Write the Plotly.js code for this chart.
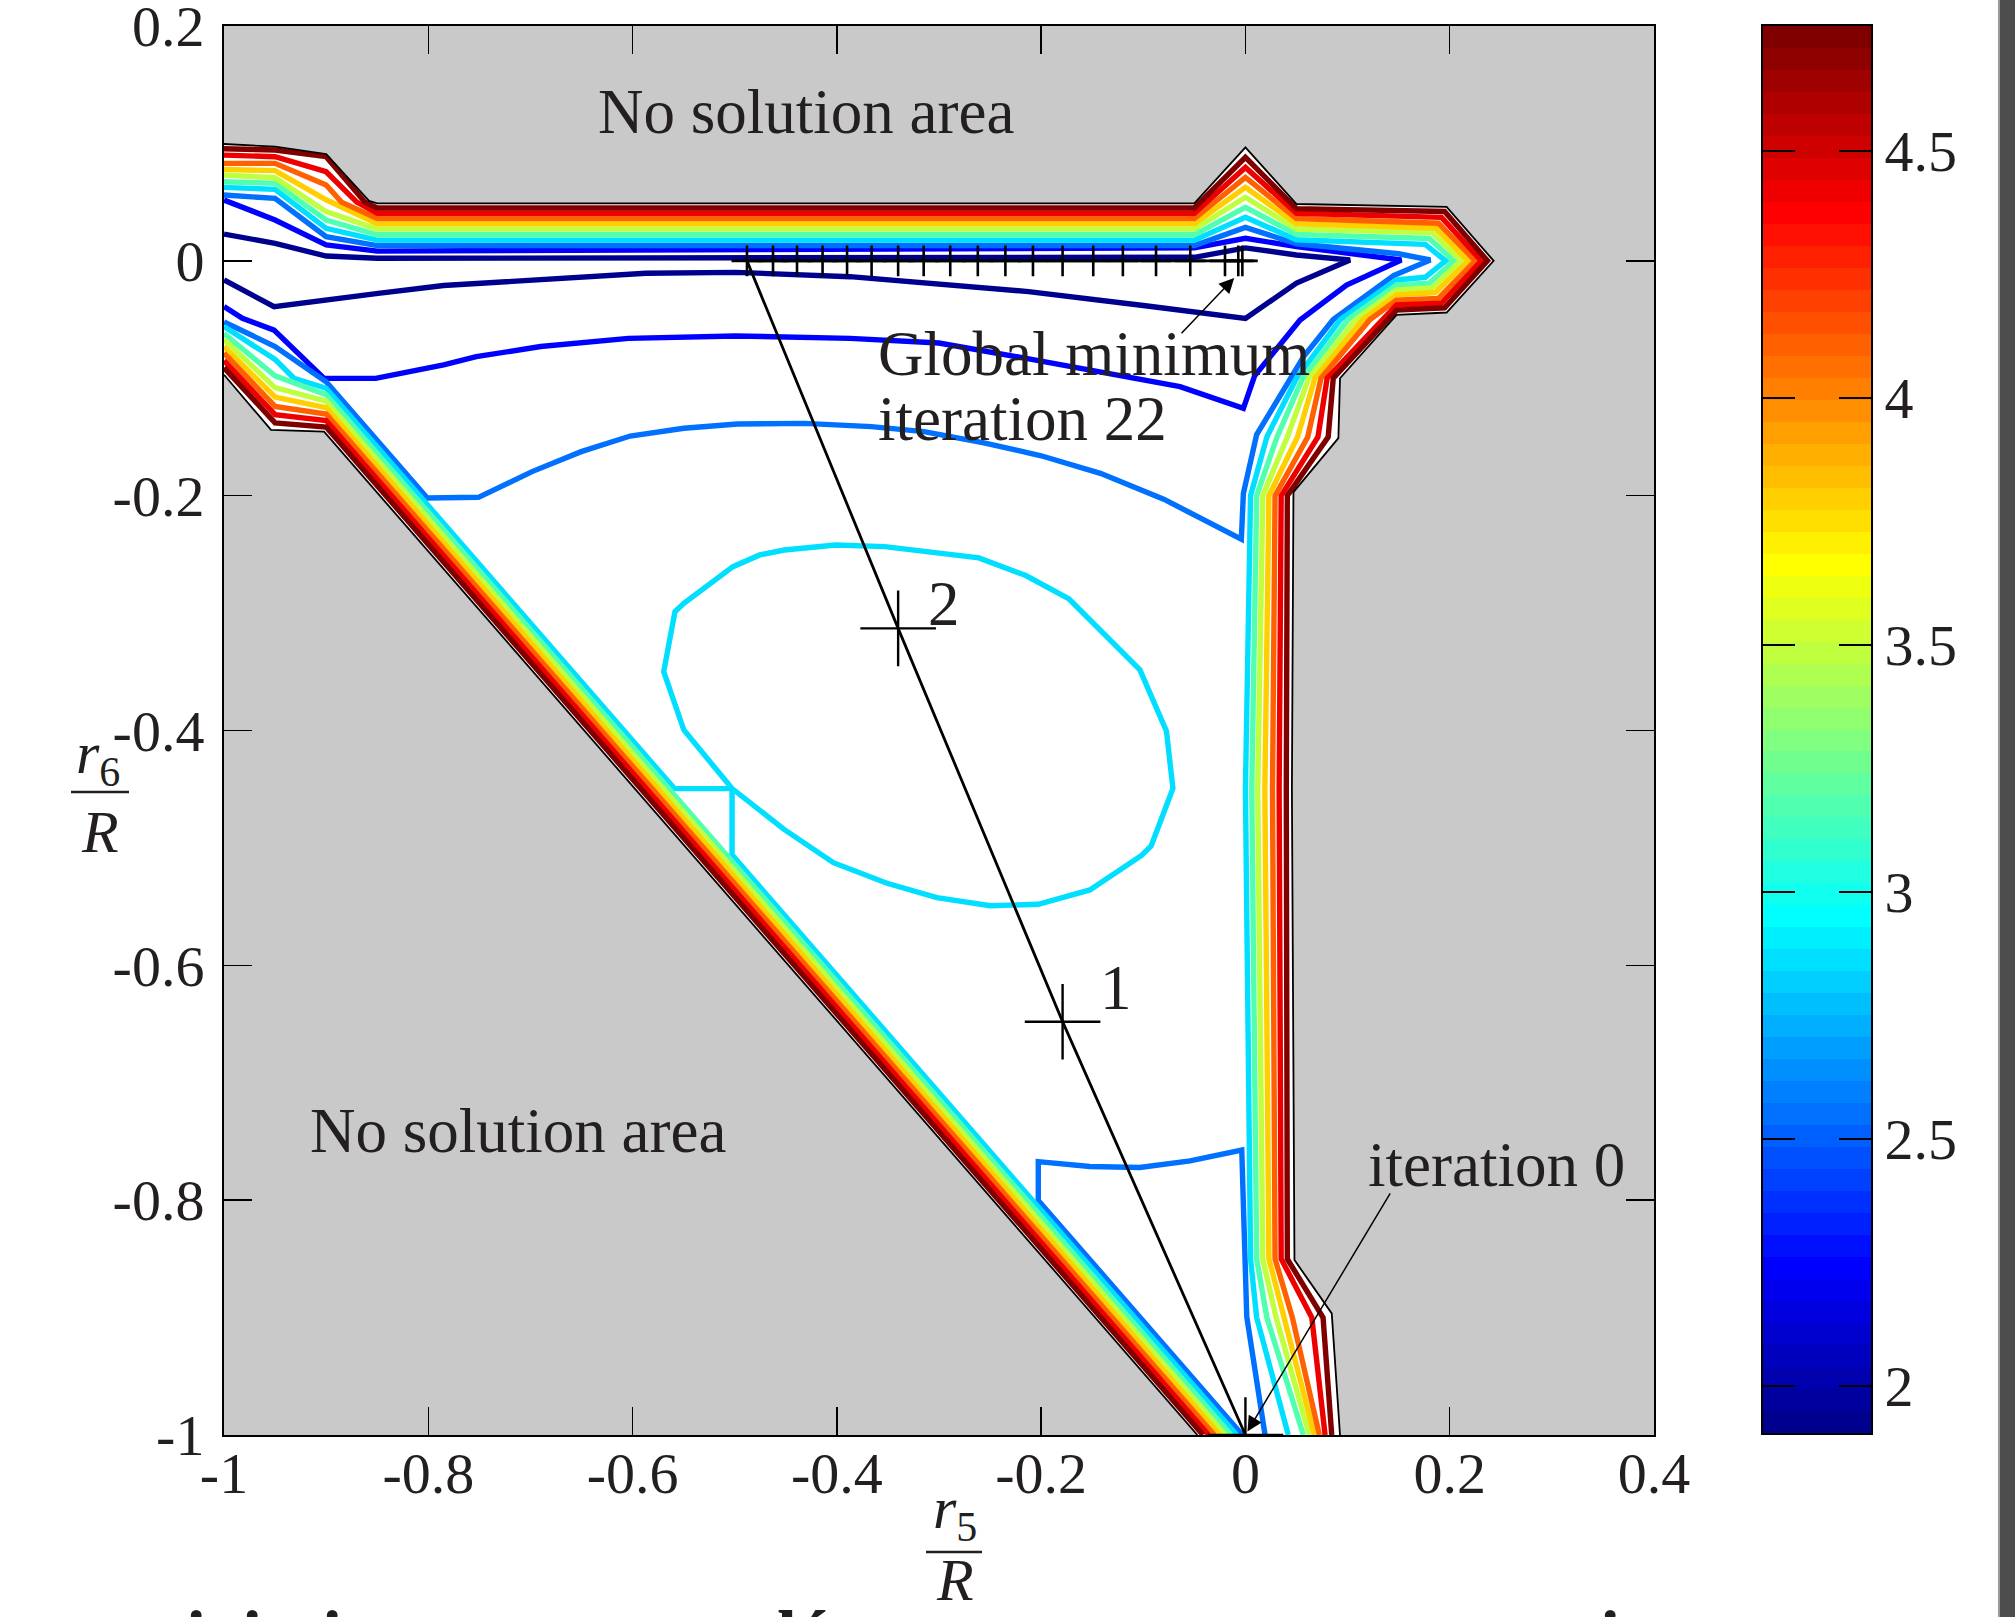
<!DOCTYPE html>
<html><head><meta charset="utf-8">
<script src="https://cdn.plot.ly/plotly-3.0.1.min.js"></script>
<style>html,body{margin:0;padding:0;background:#fff;overflow:hidden}#chart{width:2015px;height:1617px;}</style>
</head><body><div id="chart"></div>
<script>
// ---------------- data ----------------
const cbMin = 1.905, cbMax = 4.753;
const levels = [1.93, 2.24, 2.55, 2.86, 3.17, 3.48, 3.79, 4.10, 4.41, 4.72];

// level 0 (navy)
const navyX = [-1, -0.95, -0.9, -0.85, -0.05, 0, 0.05, 0.1024, 0.05, 0, -0.1, -0.2123, -0.3871, -0.499, -0.587, -0.717, -0.785, -0.849, -0.901, -0.951, -1];
const navyY = [0.0228, 0.0149, 0.0041, 0.0022, 0.003, 0.011, 0.005, 0.0007, -0.019, -0.049, -0.038, -0.0262, -0.0135, -0.0098, -0.0106, -0.0175, -0.021, -0.0277, -0.0333, -0.039, -0.0163];
// level 1 (blue)
const blueX = [-1, -0.95, -0.9, -0.85, -0.05, 0, 0.05, 0.1, 0.1526, 0.099, 0.0535, 0.009, -0.002, -0.064, -0.125, -0.212, -0.3, -0.387, -0.4995, -0.604, -0.69, -0.753, -0.785, -0.8515, -0.902, -0.951, -0.982, -1];
const blueY = [0.0518, 0.0348, 0.0135, 0.0083, 0.011, 0.0192, 0.0121, 0.006, 0.0007, -0.0206, -0.0504, -0.098, -0.1256, -0.1071, -0.097, -0.0835, -0.070, -0.066, -0.064, -0.066, -0.073, -0.0816, -0.0887, -0.1001, -0.1001, -0.059, -0.049, -0.039];
// level 2 (azure)
const azureX = [-1, -0.95, -0.9, -0.85, -0.05, 0, 0.05, 0.15, 0.181, 0.145, 0.086, 0.057, 0.011, -0.002, -0.004, -0.08, -0.142, -0.2, -0.256, -0.3146, -0.3662, -0.4318, -0.4974, -0.5498, -0.6023, -0.6503, -0.6984, -0.7509, -0.801, -0.9, -0.95, -1];
const azureY = [0.0561, 0.0532, 0.0206, 0.013, 0.013, 0.0285, 0.0145, 0.006, 0.0007, -0.0126, -0.05, -0.0816, -0.148, -0.198, -0.237, -0.203, -0.181, -0.166, -0.155, -0.1455, -0.1412, -0.1384, -0.139, -0.1426, -0.1492, -0.1625, -0.1795, -0.2014, -0.202, -0.103, -0.073, -0.052];
const azureBottomX = [-0.003, -0.2028, -0.2028, -0.1523, -0.1036, -0.0542, -0.0036, 0.0013, 0.0192];
const azureBottomY = [-1, -0.8002, -0.7672, -0.7713, -0.7722, -0.7666, -0.7573, -0.8992, -1];
// level 3 (cyan)
const cyanUpperX = [-1, -0.95, -0.9, -0.85, -0.05, 0, 0.05, 0.176, 0.196, 0.176, 0.148, 0.093, 0.050, 0.021, 0.005, 0.000, 0.005, 0.011, 0.042];
const cyanUpperY = [0.0626, 0.0609, 0.0277, 0.0176, 0.0176, 0.0371, 0.018, 0.014, 0, -0.014, -0.0163, -0.05, -0.1, -0.15, -0.2, -0.45, -0.85, -0.9, -1];
const cyanLowerX = [-1, -0.95, -0.9315, -0.9, -0.559, -0.5026, -0.5498, -0.5695, -0.5585, -0.5498, -0.5017, -0.4755, -0.4515, -0.4012, -0.3531, -0.3146, -0.261, -0.215, -0.1727, -0.1033, -0.0773, -0.071, -0.0923, -0.1017, -0.1523, -0.2028, -0.2497, -0.3021, -0.3509, -0.4034, -0.452, -0.5026, -0.5026, -0.0085];
const cyanLowerY = [-0.056, -0.084, -0.1, -0.1085, -0.4495, -0.4494, -0.3996, -0.3499, -0.2988, -0.2917, -0.2605, -0.2505, -0.2463, -0.242, -0.2434, -0.2477, -0.253, -0.268, -0.288, -0.3484, -0.4005, -0.4494, -0.4983, -0.5064, -0.5358, -0.548, -0.5492, -0.5423, -0.5301, -0.5126, -0.484, -0.4494, -0.5059, -1];
// level 4 (aquamarine)
const aquaUpperX = [-1, -0.95, -0.9, -0.85, -0.05, 0, 0.05, 0.18, 0.204, 0.18, 0.148, 0.1005, 0.056, 0.031, 0.011, 0.0062, 0.011, 0.021, 0.0567];
const aquaUpperY = [0.0674, 0.066, 0.0348, 0.0222, 0.0222, 0.0456, 0.0225, 0.019, 0, -0.019, -0.0206, -0.05, -0.1, -0.15, -0.2, -0.45, -0.85, -0.9, -1];
const aquaLowerX = [-1, -0.95, -0.9, -0.014];
const aquaLowerY = [-0.062, -0.098, -0.114, -1];
// level 5 (yellow-green)
const ygUpperX = [-1, -0.95, -0.9, -0.85, -0.05, 0, 0.05, 0.183, 0.211, 0.183, 0.148, 0.108, 0.062, 0.041, 0.017, 0.012, 0.017, 0.030, 0.0626];
const ygUpperY = [0.0731, 0.0708, 0.0419, 0.027, 0.027, 0.0541, 0.027, 0.024, 0, -0.023, -0.0248, -0.05, -0.1, -0.15, -0.2, -0.45, -0.85, -0.9, -1];
const ygLowerX = [-1, -0.95, -0.9, -0.0195];
const ygLowerY = [-0.067, -0.108, -0.1195, -1];
// level 6 (gold)
const goldUpperX = [-1, -0.95, -0.9, -0.85, -0.05, 0, 0.05, 0.186, 0.218, 0.186, 0.148, 0.115, 0.068, 0.051, 0.023, 0.019, 0.023, 0.038, 0.0675];
const goldUpperY = [0.0779, 0.0768, 0.052, 0.0315, 0.0315, 0.0626, 0.0315, 0.028, 0, -0.027, -0.029, -0.05, -0.1, -0.15, -0.2, -0.45, -0.85, -0.9, -1];
const goldLowerX = [-1, -0.95, -0.9, -0.025];
const goldLowerY = [-0.073, -0.116, -0.125, -1];
// level 7 (orange)
const orangeUpperX = [-1, -0.95, -0.9, -0.885, -0.85, -0.05, 0, 0.05, 0.189, 0.225, 0.189, 0.148, 0.122, 0.074, 0.061, 0.029, 0.0265, 0.029, 0.046, 0.0724];
const orangeUpperY = [0.083, 0.083, 0.0646, 0.05, 0.036, 0.036, 0.0711, 0.036, 0.032, 0, -0.032, -0.0334, -0.05, -0.1, -0.15, -0.2, -0.45, -0.85, -0.9, -1];
const orangeLowerX = [-1, -0.95, -0.9, -0.0305];
const orangeLowerY = [-0.0785, -0.124, -0.1305, -1];
// level 8 (red)
const redUpperX = [-1, -0.95, -0.9, -0.87, -0.85, -0.05, 0, 0.05, 0.192, 0.231, 0.192, 0.148, 0.080, 0.071, 0.035, 0.033, 0.035, 0.065, 0.078];
const redUpperY = [0.090, 0.0887, 0.0759, 0.05, 0.0405, 0.0405, 0.0796, 0.0405, 0.037, 0, -0.036, -0.0376, -0.1, -0.15, -0.2, -0.45, -0.85, -0.9, -1];
const redLowerX = [-1, -0.95, -0.9, -0.036];
const redLowerY = [-0.085, -0.131, -0.136, -1];
// level 9 (dark red)
const darkUpperX = [-1, -0.95, -0.9, -0.862, -0.85, -0.05, 0, 0.05, 0.195, 0.237, 0.195, 0.148, 0.086, 0.081, 0.041, 0.040, 0.041, 0.076, 0.0845];
const darkUpperY = [0.0955, 0.0944, 0.0887, 0.05, 0.045, 0.045, 0.0882, 0.0445, 0.042, 0, -0.040, -0.042, -0.1, -0.15, -0.2, -0.45, -0.85, -0.9, -1];
const darkLowerX = [-1, -0.95, -0.9, -0.0415];
const darkLowerY = [-0.091, -0.138, -0.1415, -1];
// boundary of the "no solution" area
const edgeUpperX = [-1, -0.95, -0.9, -0.858, -0.85, -0.05, 0, 0.05, 0.197, 0.243, 0.197, 0.148, 0.0926, 0.091, 0.047, 0.0455, 0.048, 0.0845, 0.0926];
const edgeUpperY = [0.0995, 0.0972, 0.091, 0.051, 0.049, 0.049, 0.0967, 0.0484, 0.046, 0, -0.044, -0.046, -0.1, -0.151, -0.197, -0.45, -0.851, -0.8964, -1];
const edgeLowerX = [-1, -0.954, -0.902, -0.047];
const edgeLowerY = [-0.097, -0.144, -0.1455, -1];

// optimisation path (iterations 0..22)
const iterX = [0, -0.179, -0.340, -0.488, -0.4625, -0.439, -0.414, -0.390, -0.366, -0.340, -0.315, -0.289, -0.262, -0.235, -0.208, -0.179, -0.149, -0.120, -0.0875, -0.054, -0.020, -0.007, -0.003];
const iterY = [-1, -0.648, -0.313, 0, 0, 0, 0, 0, 0, 0, 0, 0, 0, 0, 0, 0, 0, 0, 0, 0, 0, 0, 0];

// ticks
const xTickVals = [-1, -0.8, -0.6, -0.4, -0.2, 0, 0.2, 0.4];
const xTickText = ['-1', '-0.8', '-0.6', '-0.4', '-0.2', '0', '0.2', '0.4'];
const yTickVals = [-1, -0.8, -0.6, -0.4, -0.2, 0, 0.2];
const yTickText = ['-1', '-0.8', '-0.6', '-0.4', '-0.2', '0', '0.2'];
const cbTickVals = [2, 2.5, 3, 3.5, 4, 4.5];
const cbTickText = ['2', '2.5', '3', '3.5', '4', '4.5'];

// ---------------- colour map (MATLAB jet, 64 steps) ----------------
function jet64(i) {
  const j = i + 1;
  const u = k => (k >= 1 && k <= 16) ? k / 16 : (k >= 17 && k <= 31) ? 1 : (k >= 32 && k <= 47) ? (48 - k) / 16 : 0;
  const r = u(j - 24), g = u(j - 8), b = u(j + 8);
  return 'rgb(' + Math.round(r * 255) + ',' + Math.round(g * 255) + ',' + Math.round(b * 255) + ')';
}
function levelColor(v) {
  let i = Math.floor((v - cbMin) / (cbMax - cbMin) * 64);
  i = Math.max(0, Math.min(63, i));
  return jet64(i);
}

const FONT = 'Liberation Serif, Times New Roman, serif';
const TXT = '#231f20';
const traces = [];

// feasible (white) region
traces.push({
  x: edgeUpperX.concat(edgeLowerX.slice().reverse()),
  y: edgeUpperY.concat(edgeLowerY.slice().reverse()),
  mode: 'lines', fill: 'toself', fillcolor: '#ffffff', line: {width: 0},
  hoverinfo: 'skip', showlegend: false, xaxis: 'x', yaxis: 'y'
});

const contourSet = [
  [navyX, navyY, 0], [blueX, blueY, 1], [azureX, azureY, 2], [azureBottomX, azureBottomY, 2],
  [cyanUpperX, cyanUpperY, 3], [cyanLowerX, cyanLowerY, 3],
  [aquaUpperX, aquaUpperY, 4], [aquaLowerX, aquaLowerY, 4],
  [ygUpperX, ygUpperY, 5], [ygLowerX, ygLowerY, 5],
  [goldUpperX, goldUpperY, 6], [goldLowerX, goldLowerY, 6],
  [orangeUpperX, orangeUpperY, 7], [orangeLowerX, orangeLowerY, 7],
  [redUpperX, redUpperY, 8], [redLowerX, redLowerY, 8],
  [darkUpperX, darkUpperY, 9], [darkLowerX, darkLowerY, 9]
];
contourSet.forEach(c => {
  traces.push({x: c[0], y: c[1], mode: 'lines', line: {color: levelColor(levels[c[2]]), width: 5.4},
    hoverinfo: 'skip', showlegend: false});
});
[[edgeUpperX, edgeUpperY], [edgeLowerX, edgeLowerY]].forEach(c => {
  traces.push({x: c[0], y: c[1], mode: 'lines', line: {color: '#000', width: 1.8},
    hoverinfo: 'skip', showlegend: false});
});

// path
traces.push({x: iterX, y: iterY, mode: 'lines', line: {color: '#000', width: 2.8}, hoverinfo: 'skip', showlegend: false});
traces.push({x: iterX.slice(0, 3), y: iterY.slice(0, 3), mode: 'markers',
  marker: {symbol: 'cross-thin', size: 54, line: {width: 2.4, color: '#000'}}, hoverinfo: 'skip', showlegend: false});
traces.push({x: iterX.slice(3), y: iterY.slice(3), mode: 'markers',
  marker: {symbol: 'cross-thin', size: 22, line: {width: 2.6, color: '#000'}}, hoverinfo: 'skip', showlegend: false});

// colour bar as a heatmap on its own axes
const cbEdges = [], cbZ = [];
for (let i = 0; i <= 64; i++) cbEdges.push(cbMin + (cbMax - cbMin) * i / 64);
for (let i = 0; i < 64; i++) cbZ.push([i + 0.5]);
const cbScale = [];
for (let i = 0; i < 64; i++) { cbScale.push([i / 64, jet64(i)]); cbScale.push([(i + 1) / 64, jet64(i)]); }
traces.push({type: 'heatmap', x: [0, 1], y: cbEdges, z: cbZ, zmin: 0, zmax: 64, colorscale: cbScale,
  showscale: false, hoverinfo: 'skip', xaxis: 'x2', yaxis: 'y2'});

const W = 2015, H = 1617;
const px = v => v / W, py = v => 1 - v / H;

const axisCommon = {
  showgrid: false, zeroline: false, ticks: 'inside', ticklen: 28, tickwidth: 1.5, tickcolor: '#000',
  showline: true, linecolor: '#000', linewidth: 2, mirror: 'ticks', automargin: false,
  ticklabeloverflow: 'allow',
  tickfont: {family: FONT, size: 58, color: TXT}
};

const annFont = {family: FONT, size: 63, color: TXT};
const P = {xref: 'paper', yref: 'paper', showarrow: false, xanchor: 'center', yanchor: 'middle'};
const annotations = [
  {xref: 'x', yref: 'y', x: -0.430, y: 0.1268, text: 'No solution area', showarrow: false, font: annFont},
  {xref: 'x', yref: 'y', x: -0.712, y: -0.741, text: 'No solution area', showarrow: false, font: annFont},
  {xref: 'x', yref: 'y', x: -0.3617, y: -0.0794, xanchor: 'left', text: 'Global minimum', showarrow: false, font: annFont},
  {xref: 'x', yref: 'y', x: -0.3617, y: -0.1347, xanchor: 'left', text: 'iteration 22', showarrow: false, font: annFont},
  {xref: 'x', yref: 'y', x: 0.2454, y: -0.770, text: 'iteration 0', showarrow: false, font: annFont},
  {xref: 'x', yref: 'y', x: -0.1267, y: -0.6193, text: '1', showarrow: false, font: annFont},
  {xref: 'x', yref: 'y', x: -0.2951, y: -0.2923, text: '2', showarrow: false, font: annFont},
  {xref: 'x', yref: 'y', x: -0.011, y: -0.0146, axref: 'x', ayref: 'y', ax: -0.064, ay: -0.063, text: '',
    showarrow: true, arrowhead: 2, arrowsize: 2, arrowwidth: 1.5, arrowcolor: '#000', standoff: 0, startstandoff: 0},
  {xref: 'x', yref: 'y', x: 0.002, y: -0.997, axref: 'x', ayref: 'y', ax: 0.1426, ay: -0.793, text: '',
    showarrow: true, arrowhead: 2, arrowsize: 2, arrowwidth: 1.5, arrowcolor: '#000', standoff: 0, startstandoff: 0},
  // axis titles r5/R and r6/R
  Object.assign({}, P, {x: px(955), y: py(1512), text: '<i>r</i><sub>5</sub>', font: {family: FONT, size: 60, color: TXT}}),
  Object.assign({}, P, {x: px(955), y: py(1580), text: '<i>R</i>', font: {family: FONT, size: 60, color: TXT}}),
  Object.assign({}, P, {x: px(98), y: py(757), text: '<i>r</i><sub>6</sub>', font: {family: FONT, size: 60, color: TXT}}),
  Object.assign({}, P, {x: px(100), y: py(832), text: '<i>R</i>', font: {family: FONT, size: 60, color: TXT}}),
  // cropped caption line at the very bottom
  Object.assign({}, P, {x: px(160), y: py(1636), xanchor: 'left', text: '<b>ti  i  ti</b>', font: {family: FONT, size: 72, color: TXT}}),
  Object.assign({}, P, {x: px(775), y: py(1636), xanchor: 'left', text: '<b>lé</b>', font: {family: FONT, size: 72, color: TXT}}),
  Object.assign({}, P, {x: px(1610), y: py(1636), text: '<b>i</b>', font: {family: FONT, size: 72, color: TXT}})
];

const shapes = [
  {type: 'line', xref: 'paper', yref: 'paper', x0: px(926), x1: px(982), y0: py(1552), y1: py(1552), line: {color: TXT, width: 2.5}},
  {type: 'line', xref: 'paper', yref: 'paper', x0: px(71), x1: px(129), y0: py(792), y1: py(792), line: {color: TXT, width: 2.5}},
  {type: 'rect', xref: 'paper', yref: 'paper', x0: px(1998), x1: 1, y0: 0, y1: 1, fillcolor: '#4d4d4d', line: {width: 0}},
  {type: 'line', xref: 'paper', yref: 'paper', x0: px(1999), x1: px(1999), y0: 0, y1: 1, line: {color: '#9a9a9a', width: 2}}
];

const layout = {
  width: W, height: H, margin: {l: 0, r: 0, t: 0, b: 0, pad: 0},
  paper_bgcolor: '#ffffff', plot_bgcolor: '#c9c9c9', showlegend: false,
  xaxis: Object.assign({}, axisCommon, {domain: [px(224), px(1654)], range: [-1, 0.4], anchor: 'y',
    tickmode: 'array', tickvals: xTickVals, ticktext: xTickText, ticklabelstandoff: -14}),
  yaxis: Object.assign({}, axisCommon, {domain: [py(1435), py(26)], range: [-1, 0.2], anchor: 'x',
    tickmode: 'array', tickvals: yTickVals, ticktext: yTickText, ticklabelstandoff: 6}),
  xaxis2: {domain: [px(1763), px(1871)], range: [0, 1], anchor: 'y2', showticklabels: false, ticks: '',
    showgrid: false, zeroline: false, showline: true, mirror: true, linecolor: '#000', linewidth: 2, fixedrange: true},
  yaxis2: {domain: [py(1433), py(26)], range: [cbMin, cbMax], anchor: 'x2', side: 'right',
    tickmode: 'array', tickvals: cbTickVals, ticktext: cbTickText, ticks: 'inside', ticklen: 32, tickwidth: 1.2, tickcolor: '#000',
    showgrid: false, zeroline: false, showline: true, mirror: 'ticks', linecolor: '#000', linewidth: 2,
    ticklabeloverflow: 'allow', tickfont: {family: FONT, size: 58, color: TXT}},
  annotations: annotations,
  shapes: shapes
};

Plotly.newPlot('chart', traces, layout, {displayModeBar: false, staticPlot: true});
</script></body></html>
